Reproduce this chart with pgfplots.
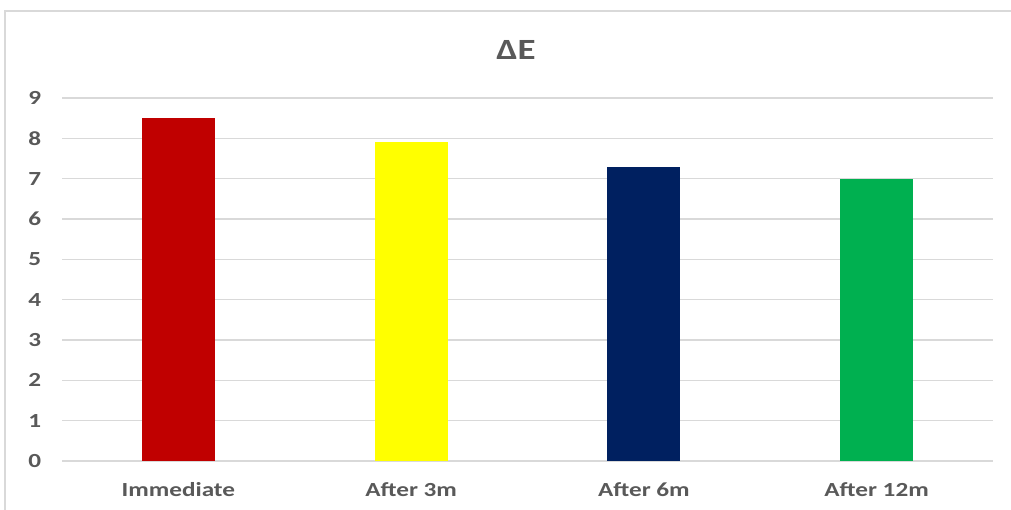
\documentclass[border=0pt]{standalone}
\usepackage{fontspec}
\setmainfont{Carlito}[FakeStretch=1.26]
\usepackage{pgfplots}
\pgfplotsset{compat=1.18}
\definecolor{txtgray}{HTML}{595959}
\definecolor{gridgray}{HTML}{D9D9D9}
\definecolor{cred}{HTML}{C00000}
\definecolor{cyellow}{HTML}{FFFF00}
\definecolor{cnavy}{HTML}{002060}
\definecolor{cgreen}{HTML}{00B050}
\begin{document}
\begin{tikzpicture}
\useasboundingbox (0,0) rectangle (758.25pt,382.5pt);
\draw[gridgray, line width=1pt] (3.75pt,0) -- (3.75pt,374.25pt) -- (758.25pt,374.25pt);
\node[anchor=base, text=txtgray, font=\fontsize{22}{26}\selectfont\bfseries, inner sep=0pt] at (387pt,337.5pt) {ΔE};
\begin{axis}[
  at={(46.5pt,36.75pt)}, anchor=south west,
  scale only axis, width=698.25pt, height=272.25pt,
  xmin=-0.5, xmax=3.5, ymin=0, ymax=9,
  ybar, bar width=54.75pt, bar shift=0pt,
  xtick={0,1,2,3},
  xticklabels={Immediate, After 3m, After 6m, After 12m},
  ytick={0,1,...,9},
  axis line style={draw=none},
  major tick length=0pt,
  ymajorgrids=true,
  major grid style={gridgray, line width=1.1pt},
  /pgf/number format/assume math mode=true,
  ticklabel style={text=txtgray, font=\fontsize{15}{18}\selectfont\bfseries},
  xticklabel style={anchor=base, inner sep=0pt, yshift=-27pt},
  yticklabel style={anchor=east, inner sep=0pt, xshift=-15.5pt},
  clip=false,
]
\addplot[fill=cred, draw=none] coordinates {(0,8.5)};
\addplot[fill=cyellow, draw=none] coordinates {(1,7.9)};
\addplot[fill=cnavy, draw=none] coordinates {(2,7.3)};
\addplot[fill=cgreen, draw=none] coordinates {(3,6.98)};
\end{axis}
\end{tikzpicture}
\end{document}
